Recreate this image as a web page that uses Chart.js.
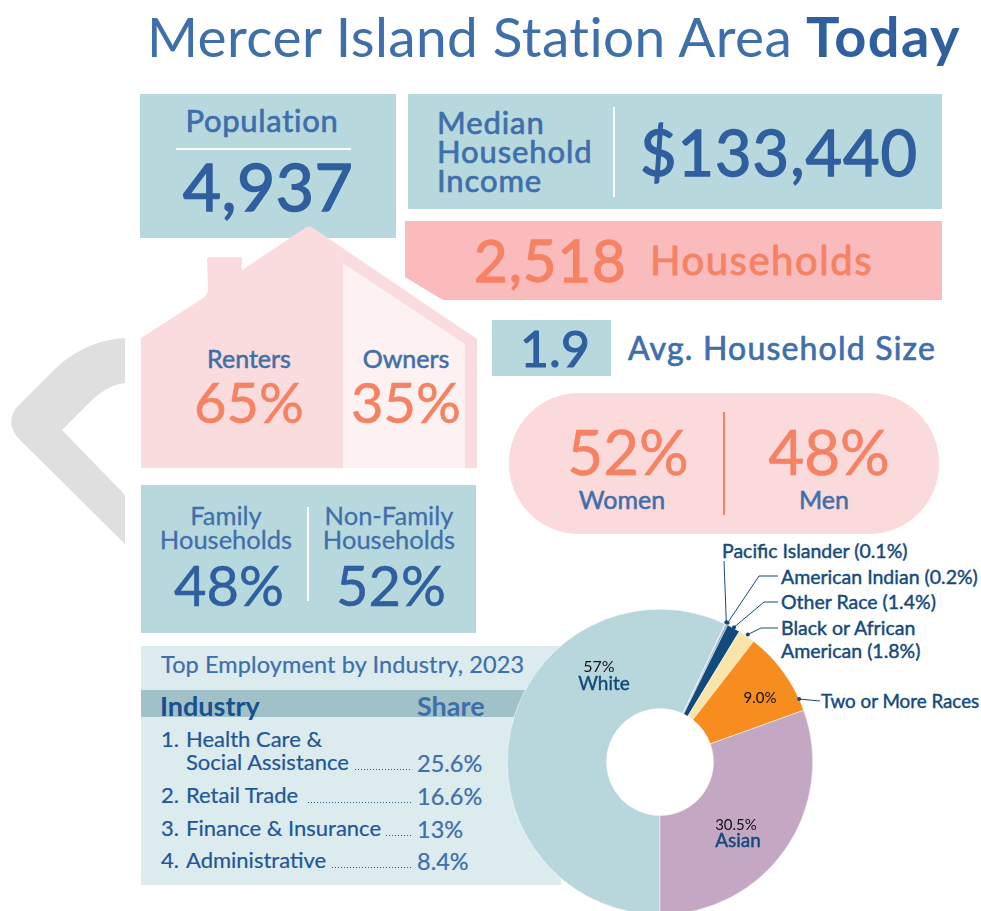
<!DOCTYPE html>
<html>
<head>
<meta charset="utf-8">
<title>Mercer Island Station Area Today</title>
<script src="https://cdn.jsdelivr.net/npm/chart.js@4"></script>
<style>
  html, body { margin: 0; padding: 0; background: #fff; }
  #page { position: relative; width: 981px; height: 911px; overflow: hidden; font-family: Lato, sans-serif; }
  #page > * { position: absolute; }
  .t { white-space: nowrap; line-height: 1; }
  #deco { left: 0; top: 0; }
  #raceChart { left: 0; top: 0; }
</style>
</head>
<body>
<div id="page"></div>
<script>
// race / ethnicity shares, clockwise from the bottom of the ring
const raceLabels = ["White", "Pacific Islander", "American Indian", "Other Race", "Black or African American", "Two or More Races", "Asian"];
const raceValues = [57, 0.1, 0.2, 1.4, 1.8, 9.0, 30.5];
const raceColors = ["#b7d7dc", "#e8a98c", "#6fa9d6", "#134a7c", "#f9e4a9", "#f78d1e", "#c3a7c3"];

const industries = ["Health Care &", "Retail Trade", "Finance & Insurance", "Administrative"];
const industryShares = ["25.6%", "16.6%", "13%", "8.4%"];

const population = "4,937";
const income = "$133,440";
const households = "2,518";
const householdSize = "1.9";
const tenure = ["65%", "35%"];
const gender = ["52%", "48%"];
const familyShare = ["48%", "52%"];

const BLUE = "#3f6fab";
const DEEP = "#2f5f9e";
const NAVY = "#134a7c";
const CORAL = "#f58262";

const page = document.getElementById("page");

const box = (x, y, w, h, color) => {
  const d = document.createElement("div");
  d.style.cssText = `left:${x}px;top:${y}px;width:${w}px;height:${h}px;background:${color};`;
  page.appendChild(d);
  return d;
};

// Lato has no medium cut here, so 450/500 get a thin outline to thicken the strokes
const outline = (size, weight) => (weight === 500 ? size * 0.022 : weight === 450 ? size * 0.01 : 0);

// x is the left edge, or the centre when align is "c"; y is the vertical middle
const put = (text, x, y, size, color, weight = 400, align = "l", spacing = 0) => {
  const d = document.createElement("div");
  d.className = "t";
  d.textContent = text;
  const tx = align === "c" ? "-50%" : "0";
  const fw = weight >= 700 ? 700 : 400;
  d.style.cssText = `left:${x}px;top:${y}px;font-size:${size}px;color:${color};font-weight:${fw};letter-spacing:${spacing}px;-webkit-text-stroke:${outline(size, weight)}px ${color};transform:translate(${tx},-50%);`;
  page.appendChild(d);
};

// shapes that are not boxes
page.insertAdjacentHTML("beforeend", `
<svg id="deco" width="981" height="911">
  <path fill="#dfdfdf" d="M125 338 C95 340 72 352 52 372 L18 406 C9 415 9 428 18 438 L125 544 L125 495 L62 430 L88 404 C99 393 110 385 125 383 Z"/>
</svg>`);

// left column and top boxes
box(140, 94, 256, 144, "#b7d8dd");
box(176, 148, 175, 2, "#fff");
box(408, 94, 534, 115, "#b7d8dd");
box(613, 107, 2, 90, "#fff");
box(492, 320, 119, 56, "#b7d8dd");
box(141, 485, 335, 148, "#b7d8dd");
box(307, 507, 2, 94, "#fff");

page.insertAdjacentHTML("beforeend", `
<svg style="left:0;top:0" width="981" height="911">
  <path fill="#fabbbd" d="M405 221 H942 V300 H443 L405 277 Z"/>
  <path fill="#fbdcde" d="M141 338 L200 300 C206 296 208 294 208 288 L207 260 C207 258 208 257 210 257 L240 257 C242 257 242 259 242 261 L242 270 L305 228 C308 226 310 226 313 228 L477 339 V468 H141 Z"/>
  <path fill="#fef1f1" d="M343 263 L465 344 V468 H343 Z"/>
</svg>`);

const pill = box(509, 393, 430, 141, "#fbdadc");
pill.style.borderRadius = "70px";
box(723, 412, 2, 103, CORAL);

// table panel sits under the ring
box(141, 646, 420, 239, "#dbebee");
box(141, 690, 420, 27, "#a1c1c8");

// title
put("Mercer Island Station Area", 147, 36, 55, BLUE, 400, "l", 0.4);
put("Today", 806, 36, 56, DEEP, 700, "l", 1.4);

put("Population", 262, 120, 31, BLUE, 500, "c", 0.7);
put(population, 268, 186, 66, DEEP, 500, "c", 0.5);

put("Median", 437, 122, 31, BLUE, 500, "l", 0.9);
put("Household", 437, 151, 31, BLUE, 500, "l", 0.9);
put("Income", 437, 180, 31, BLUE, 500, "l", 0.9);
put(income, 640, 151, 63, DEEP, 500, "l", 1);

put(households, 474, 260, 58, CORAL, 500, "l", 1);
put("Households", 650, 260, 40, CORAL, 500, "l", 1.55);

put(householdSize, 555, 348, 50, DEEP, 500, "c");
put("Avg. Household Size", 628, 348, 32, BLUE, 500, "l", 1.2);

put("Renters", 249, 358, 25, BLUE, 500, "c");
put(tenure[0], 249, 402, 56, CORAL, 450, "c");
put("Owners", 406, 358, 25, BLUE, 500, "c");
put(tenure[1], 406, 402, 56, CORAL, 450, "c");

put(gender[0], 628, 451, 62, CORAL, 450, "c");
put(gender[1], 829, 451, 62, CORAL, 450, "c");
put("Women", 622, 499, 25, BLUE, 500, "c");
put("Men", 824, 499, 25, BLUE, 500, "c");

put("Family", 226, 516, 25.5, BLUE, 450, "c");
put("Households", 226, 540, 25.5, BLUE, 450, "c");
put(familyShare[0], 229, 585, 56, DEEP, 450, "c");
put("Non-Family", 389, 516, 25.5, BLUE, 450, "c");
put("Households", 389, 540, 25.5, BLUE, 450, "c");
put(familyShare[1], 391, 585, 56, DEEP, 450, "c");

// employment table
put("Top Employment by Industry, 2023", 161, 665, 23.5, BLUE, 450, "l", 0.12);
put("Industry", 160, 705, 27, "#17508f", 700);
put("Share", 417, 705, 27, BLUE, 700);

const ROW = "#1f5797";
const rowY = [763, 796, 829, 861];
const dotsFrom = [355, 308, 386, 332];
put("1.", 161, 739, 22, ROW, 450);
put(industries[0], 186, 739, 22, ROW, 450);
put("Social Assistance", 186, 762, 22, ROW, 450);
industries.forEach((name, i) => {
  if (i > 0) {
    put(i + 1 + ".", 161, rowY[i] - 1, 22, ROW, 450);
    put(name, 186, rowY[i] - 1, 22, ROW, 450);
  }
  put(industryShares[i], 417, rowY[i] + 1, 23.5, BLUE, 450);
  const dots = box(dotsFrom[i], rowY[i] + 6, 411 - dotsFrom[i], 1, "transparent");
  dots.style.backgroundImage = `repeating-linear-gradient(90deg, ${ROW} 0 1px, transparent 1px 3px)`;
});

// callouts
put("Pacific Islander (0.1%)", 722, 551, 19.5, NAVY, 500);
put("American Indian (0.2%)", 781, 577, 19.5, NAVY, 500);
put("Other Race (1.4%)", 781, 602, 19.5, NAVY, 500);
put("Black or African", 781, 628, 19.5, NAVY, 500);
put("American (1.8%)", 781, 651, 19.5, NAVY, 500);
put("Two or More Races", 821, 701, 18.8, NAVY, 500);

// ring
const canvas = document.createElement("canvas");
canvas.id = "raceChart";
canvas.width = 981;
canvas.height = 930;
canvas.style.width = "981px";
canvas.style.height = "930px";
page.appendChild(canvas);

// leaders run from the label side through their elbows to a dot on the slice;
// along = how far round the slice the dot sits, out = px beyond the ring edge
const leaders = [
  { slice: 1, along: 0.5, out: 2, path: [[724, 561]] },
  { slice: 2, along: 0.5, out: 2, path: [[778, 576], [759, 576]] },
  { slice: 3, along: 0.5, out: 1, path: [[778, 602], [764, 602]] },
  { slice: 4, along: 0.5, out: 2, path: [[778, 628], [761, 628]] },
  { slice: 5, along: 0.86, out: 0, path: [[820, 701]] },
];

const ringNotes = {
  id: "ringNotes",
  afterDatasetsDraw(chart) {
    const { ctx } = chart;
    const arcs = chart.getDatasetMeta(0).data;
    ctx.save();
    ctx.strokeStyle = NAVY;
    ctx.fillStyle = NAVY;
    ctx.lineWidth = 1;
    leaders.forEach(({ slice, along, out, path }) => {
      const a = arcs[slice];
      const angle = a.startAngle + (a.endAngle - a.startAngle) * along;
      const ex = a.x + Math.cos(angle) * (a.outerRadius + out);
      const ey = a.y + Math.sin(angle) * (a.outerRadius + out);
      ctx.beginPath();
      path.forEach(([x, y], i) => (i ? ctx.lineTo(x, y) : ctx.moveTo(x, y)));
      ctx.lineTo(ex, ey);
      ctx.stroke();
      ctx.beginPath();
      ctx.arc(ex, ey, 2, 0, Math.PI * 2);
      ctx.fill();
    });

    // slice labels, offset from the ring centre
    const a0 = arcs[0];
    const note = (text, dx, dy, font, color, stroke = 0) => {
      ctx.font = font;
      ctx.fillStyle = color;
      ctx.strokeStyle = color;
      ctx.lineWidth = stroke;
      ctx.textAlign = "center";
      ctx.textBaseline = "middle";
      ctx.fillText(text, a0.x + dx, a0.y + dy);
      if (stroke) ctx.strokeText(text, a0.x + dx, a0.y + dy);
    };
    note(raceValues[0] + "%", -61, -95, "16px Lato", "#111");
    note(raceLabels[0], -56, -78, "19px Lato", NAVY, 0.45);
    note(raceValues[6].toFixed(1) + "%", 76, 63, "15px Lato", "#111");
    note(raceLabels[6], 78, 79, "19px Lato", NAVY, 0.45);
    note(raceValues[5].toFixed(1) + "%", 100, -64, "15px Lato", "#111");
    ctx.restore();
  },
};

new Chart(canvas, {
  type: "doughnut",
  data: {
    labels: raceLabels,
    datasets: [
      {
        data: raceValues,
        backgroundColor: raceColors,
        borderColor: "#fff",
        borderWidth: 0.5,
      },
    ],
  },
  options: {
    responsive: false,
    animation: false,
    rotation: 180,
    cutout: "35%",
    layout: { padding: { left: 507, right: 168, top: 609, bottom: 15 } },
    plugins: { legend: { display: false }, tooltip: { enabled: false } },
  },
  plugins: [ringNotes],
});
</script>
</body>
</html>
